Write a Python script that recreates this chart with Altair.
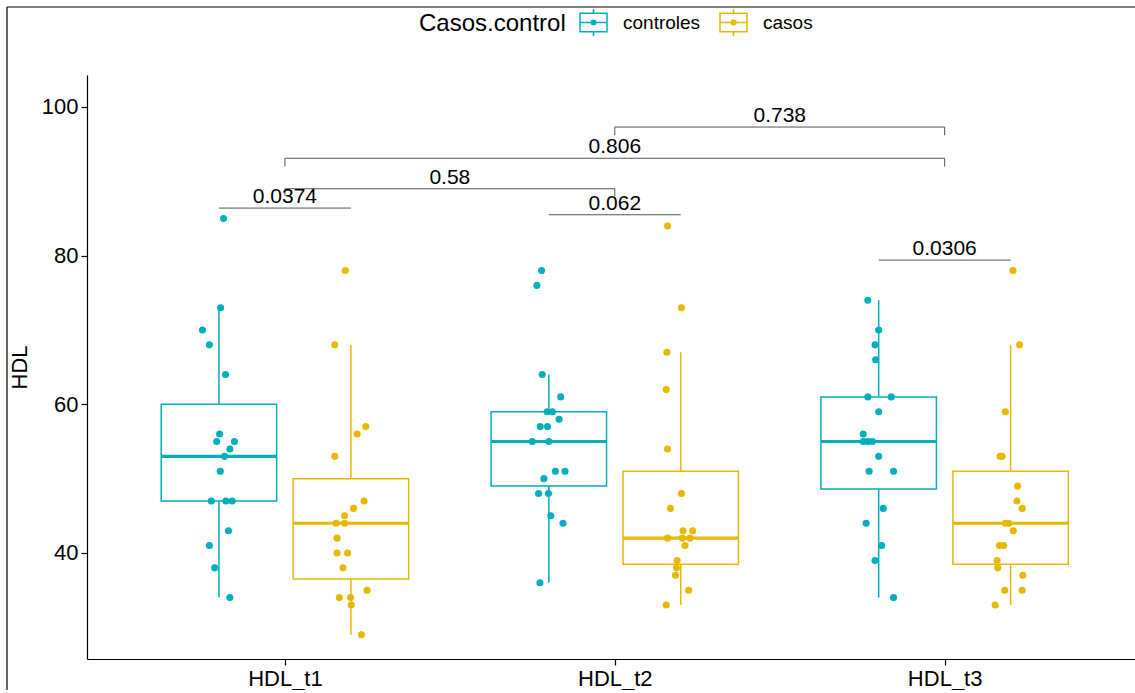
import altair as alt
import pandas as pd

FONT = "Liberation Sans"

groups = ["HDL_t1", "HDL_t2", "HDL_t3"]
series = ["controles", "casos"]
colors = ["#00AFBB", "#E7B800"]
dodge = {"controles": -0.2, "casos": 0.2}
box_half = 0.175

# ---- jittered observations (value, horizontal jitter in x units) ----
t1_controles = [85, 73, 70, 68, 64, 56, 55, 55, 54, 53, 51, 47, 47, 47, 43, 41, 38, 34]
t1_controles_jit = [0.014, 0.005, -0.050, -0.029, 0.020, 0.002, -0.007, 0.047, 0.033, 0.017,
                    0.004, -0.023, 0.021, 0.040, 0.029, -0.029, -0.013, 0.033]
t1_casos = [78, 68, 57, 56, 53, 47, 46, 45, 44, 44, 42, 40, 40, 38, 35, 34, 34, 33, 29]
t1_casos_jit = [-0.017, -0.049, 0.045, 0.019, -0.049, 0.040, 0.008, -0.019, -0.045, -0.019,
                -0.042, -0.042, -0.010, -0.024, 0.049, -0.035, -0.001, 0.001, 0.032]
t2_controles = [78, 76, 64, 61, 59, 59, 58, 57, 57, 55, 55, 51, 51, 50, 48, 48, 45, 44, 36]
t2_controles_jit = [-0.022, -0.036, -0.020, 0.036, -0.005, 0.011, 0.031, -0.026, -0.004, -0.050,
                    0.000, 0.020, 0.049, -0.015, -0.031, -0.001, 0.006, 0.043, -0.027]
t2_casos = [84, 73, 67, 62, 54, 48, 46, 43, 43, 42, 42, 42, 41, 39, 38, 37, 35, 33]
t2_casos_jit = [-0.040, 0.002, -0.042, -0.044, -0.040, 0.002, -0.031, 0.007, 0.036, -0.040,
                0.005, 0.028, 0.013, -0.011, -0.013, -0.016, 0.024, -0.044]
t3_controles = [74, 70, 68, 66, 61, 61, 59, 56, 55, 55, 55, 53, 51, 51, 46, 44, 41, 39, 34]
t3_controles_jit = [-0.033, 0.000, -0.011, -0.009, -0.033, 0.038, 0.000, -0.047, -0.047, -0.033,
                    -0.019, 0.000, -0.029, 0.045, 0.014, -0.038, 0.009, -0.011, 0.045]
t3_casos = [78, 68, 59, 53, 53, 49, 47, 46, 44, 44, 43, 41, 41, 39, 38, 37, 35, 35, 33]
t3_casos_jit = [0.007, 0.027, -0.016, -0.032, -0.026, 0.021, 0.019, 0.035, -0.016, -0.006,
                0.008, -0.034, -0.021, -0.041, -0.039, 0.037, -0.018, 0.035, -0.047]

# ---- box statistics ----
box_group = [1, 1, 2, 2, 3, 3]
box_series = ["controles", "casos", "controles", "casos", "controles", "casos"]
box_q1 = [47, 36.5, 49, 38.5, 48.6, 38.5]
box_median = [53, 44, 55, 42, 55, 44]
box_q3 = [60, 50, 59, 51, 61, 51]
box_lower = [34, 29, 36, 33, 34, 33]
box_upper = [73, 68, 64, 67, 74, 68]

# ---- comparison brackets ----
br_x1 = [0.8, 1.0, 1.8, 1.0, 2.0, 2.8]
br_x2 = [1.2, 2.0, 2.2, 3.0, 3.0, 3.2]
br_y = [86.4, 89.0, 85.5, 93.1, 97.3, 79.4]
br_tip = [0.0, 1.0, 0.0, 1.1, 1.1, 0.0]
br_label = ["0.0374", "0.58", "0.062", "0.806", "0.738", "0.0306"]

# ---- build tables ----
rows = []
sets = [
    (1, "controles", t1_controles, t1_controles_jit),
    (1, "casos", t1_casos, t1_casos_jit),
    (2, "controles", t2_controles, t2_controles_jit),
    (2, "casos", t2_casos, t2_casos_jit),
    (3, "controles", t3_controles, t3_controles_jit),
    (3, "casos", t3_casos, t3_casos_jit),
]
for g, s, vals, jits in sets:
    for v, j in zip(vals, jits):
        rows.append({"series": s, "HDL": v, "x": g + dodge[s] + j})
points = pd.DataFrame(rows)

boxes = pd.DataFrame({
    "series": box_series,
    "xc": [g + dodge[s] for g, s in zip(box_group, box_series)],
    "q1": box_q1, "median": box_median, "q3": box_q3,
    "lower": box_lower, "upper": box_upper,
})
boxes["x1"] = boxes["xc"] - box_half
boxes["x2"] = boxes["xc"] + box_half

wh_rows = []
for _, r in boxes.iterrows():
    wh_rows.append({"series": r["series"], "xc": r["xc"], "ya": r["lower"], "yb": r["q1"]})
    wh_rows.append({"series": r["series"], "xc": r["xc"], "ya": r["q3"], "yb": r["upper"]})
whiskers = pd.DataFrame(wh_rows)

brackets = pd.DataFrame({"x1": br_x1, "x2": br_x2, "y": br_y, "tip": br_tip, "label": br_label})
brackets["xm"] = (brackets["x1"] + brackets["x2"]) / 2
tip_rows = []
for _, r in brackets.iterrows():
    if r["tip"] > 0:
        tip_rows.append({"x": r["x1"], "y": r["y"], "y2": r["y"] - r["tip"]})
        tip_rows.append({"x": r["x2"], "y": r["y"], "y2": r["y"] - r["tip"]})
tips = pd.DataFrame(tip_rows)

# ---- scales / axes ----
xscale = alt.Scale(domain=[0.4, 3.577], nice=False, zero=False)
yscale = alt.Scale(domain=[25.74, 104.3], nice=False, zero=False)
cscale = alt.Scale(domain=series, range=colors)

xaxis = alt.Axis(values=[1, 2, 3], title=None, grid=False,
                 labelExpr="datum.value == 1 ? 'HDL_t1' : datum.value == 2 ? 'HDL_t2' : 'HDL_t3'",
                 labelFontSize=22, labelFont=FONT, labelColor="black", labelPadding=3,
                 tickColor="black", tickSize=6, domainColor="black", domainWidth=1.2,
                 tickWidth=1.2)
yaxis = alt.Axis(values=[40, 60, 80, 100], title="HDL", grid=False,
                 labelFontSize=22, labelFont=FONT, labelColor="black", labelPadding=3,
                 tickColor="black", tickSize=6, domainColor="black", domainWidth=1.2,
                 tickWidth=1.2, titleFontSize=22, titleFont=FONT, titleFontWeight="normal",
                 titleColor="black", titlePadding=10)

legend_path = ("M-1,-0.68 L1,-0.68 L1,0.68 L-1,0.68 Z M-1,0 L1,0 M0,-1 L0,-0.68 M0,0.68 L0,1 "
               "M0.17,0 A0.17,0.17 0 1,1 -0.17,0 A0.17,0.17 0 1,1 0.17,0 "
               "M0.1,0 A0.1,0.1 0 1,1 -0.1,0 A0.1,0.1 0 1,1 0.1,0 "
               "M0.04,0 A0.04,0.04 0 1,1 -0.04,0 A0.04,0.04 0 1,1 0.04,0")

legend = alt.Legend(title="Casos.control", orient="none", legendX=332, legendY=-67,
                    direction="horizontal", titleOrient="left", titleFontSize=24,
                    titleFont=FONT, titleFontWeight="normal", titleColor="black",
                    titleBaseline="middle", titleAnchor="middle",
                    labelFontSize=19, labelFont=FONT, labelColor="black",
                    symbolType=legend_path, symbolSize=729, symbolStrokeWidth=1.5,
                    symbolFillColor="transparent", columnPadding=16, labelOffset=15,
                    titlePadding=13)

whisk = alt.Chart(whiskers).mark_rule(strokeWidth=1.5).encode(
    x=alt.X("xc:Q", scale=xscale, axis=xaxis),
    y=alt.Y("ya:Q", scale=yscale, axis=yaxis),
    y2="yb:Q",
    color=alt.Color("series:N", scale=cscale, legend=legend),
)

box = alt.Chart(boxes).mark_rect(fillOpacity=0, strokeWidth=1.5).encode(
    x=alt.X("x1:Q", scale=xscale), x2="x2:Q",
    y=alt.Y("q1:Q", scale=yscale), y2="q3:Q",
    stroke=alt.Stroke("series:N", scale=cscale, legend=None),
)

med = alt.Chart(boxes).mark_rule(strokeWidth=3.2).encode(
    x=alt.X("x1:Q", scale=xscale), x2="x2:Q",
    y=alt.Y("median:Q", scale=yscale),
    color=alt.Color("series:N", scale=cscale, legend=None),
)

pts = alt.Chart(points).mark_circle(size=50, opacity=1).encode(
    x=alt.X("x:Q", scale=xscale),
    y=alt.Y("HDL:Q", scale=yscale),
    color=alt.Color("series:N", scale=cscale, legend=None),
)

br = alt.Chart(brackets).mark_rule(color="#555555", strokeWidth=1).encode(
    x=alt.X("x1:Q", scale=xscale), x2="x2:Q",
    y=alt.Y("y:Q", scale=yscale),
)
tp = alt.Chart(tips).mark_rule(color="#555555", strokeWidth=1).encode(
    x=alt.X("x:Q", scale=xscale),
    y=alt.Y("y:Q", scale=yscale), y2="y2:Q",
)
lab = alt.Chart(brackets).mark_text(fontSize=21, font=FONT, color="black",
                                    baseline="bottom", dy=-1).encode(
    x=alt.X("xm:Q", scale=xscale),
    y=alt.Y("y:Q", scale=yscale),
    text="label:N",
)

frame_left = alt.Chart(pd.DataFrame({"a": [0]})).mark_rule(color="black", strokeWidth=1.2).encode(
    x=alt.value(-80), y=alt.value(-68), y2=alt.value(620))
frame_top = alt.Chart(pd.DataFrame({"a": [0]})).mark_rule(color="black", strokeWidth=1.2).encode(
    x=alt.value(-80), x2=alt.value(1060), y=alt.value(-68))

chart = alt.layer(whisk, box, med, pts, br, tp, lab, frame_left, frame_top).resolve_legend(
    color="independent", stroke="independent"
).properties(
    width=1048, height=584,
    autosize=alt.AutoSizeParams(type="none"),
    padding={"left": 87, "top": 75, "right": 0, "bottom": 31},
    background="white",
).configure_view(stroke=None)

chart.save("out.html", embed_options={"renderer": "svg", "actions": False})
